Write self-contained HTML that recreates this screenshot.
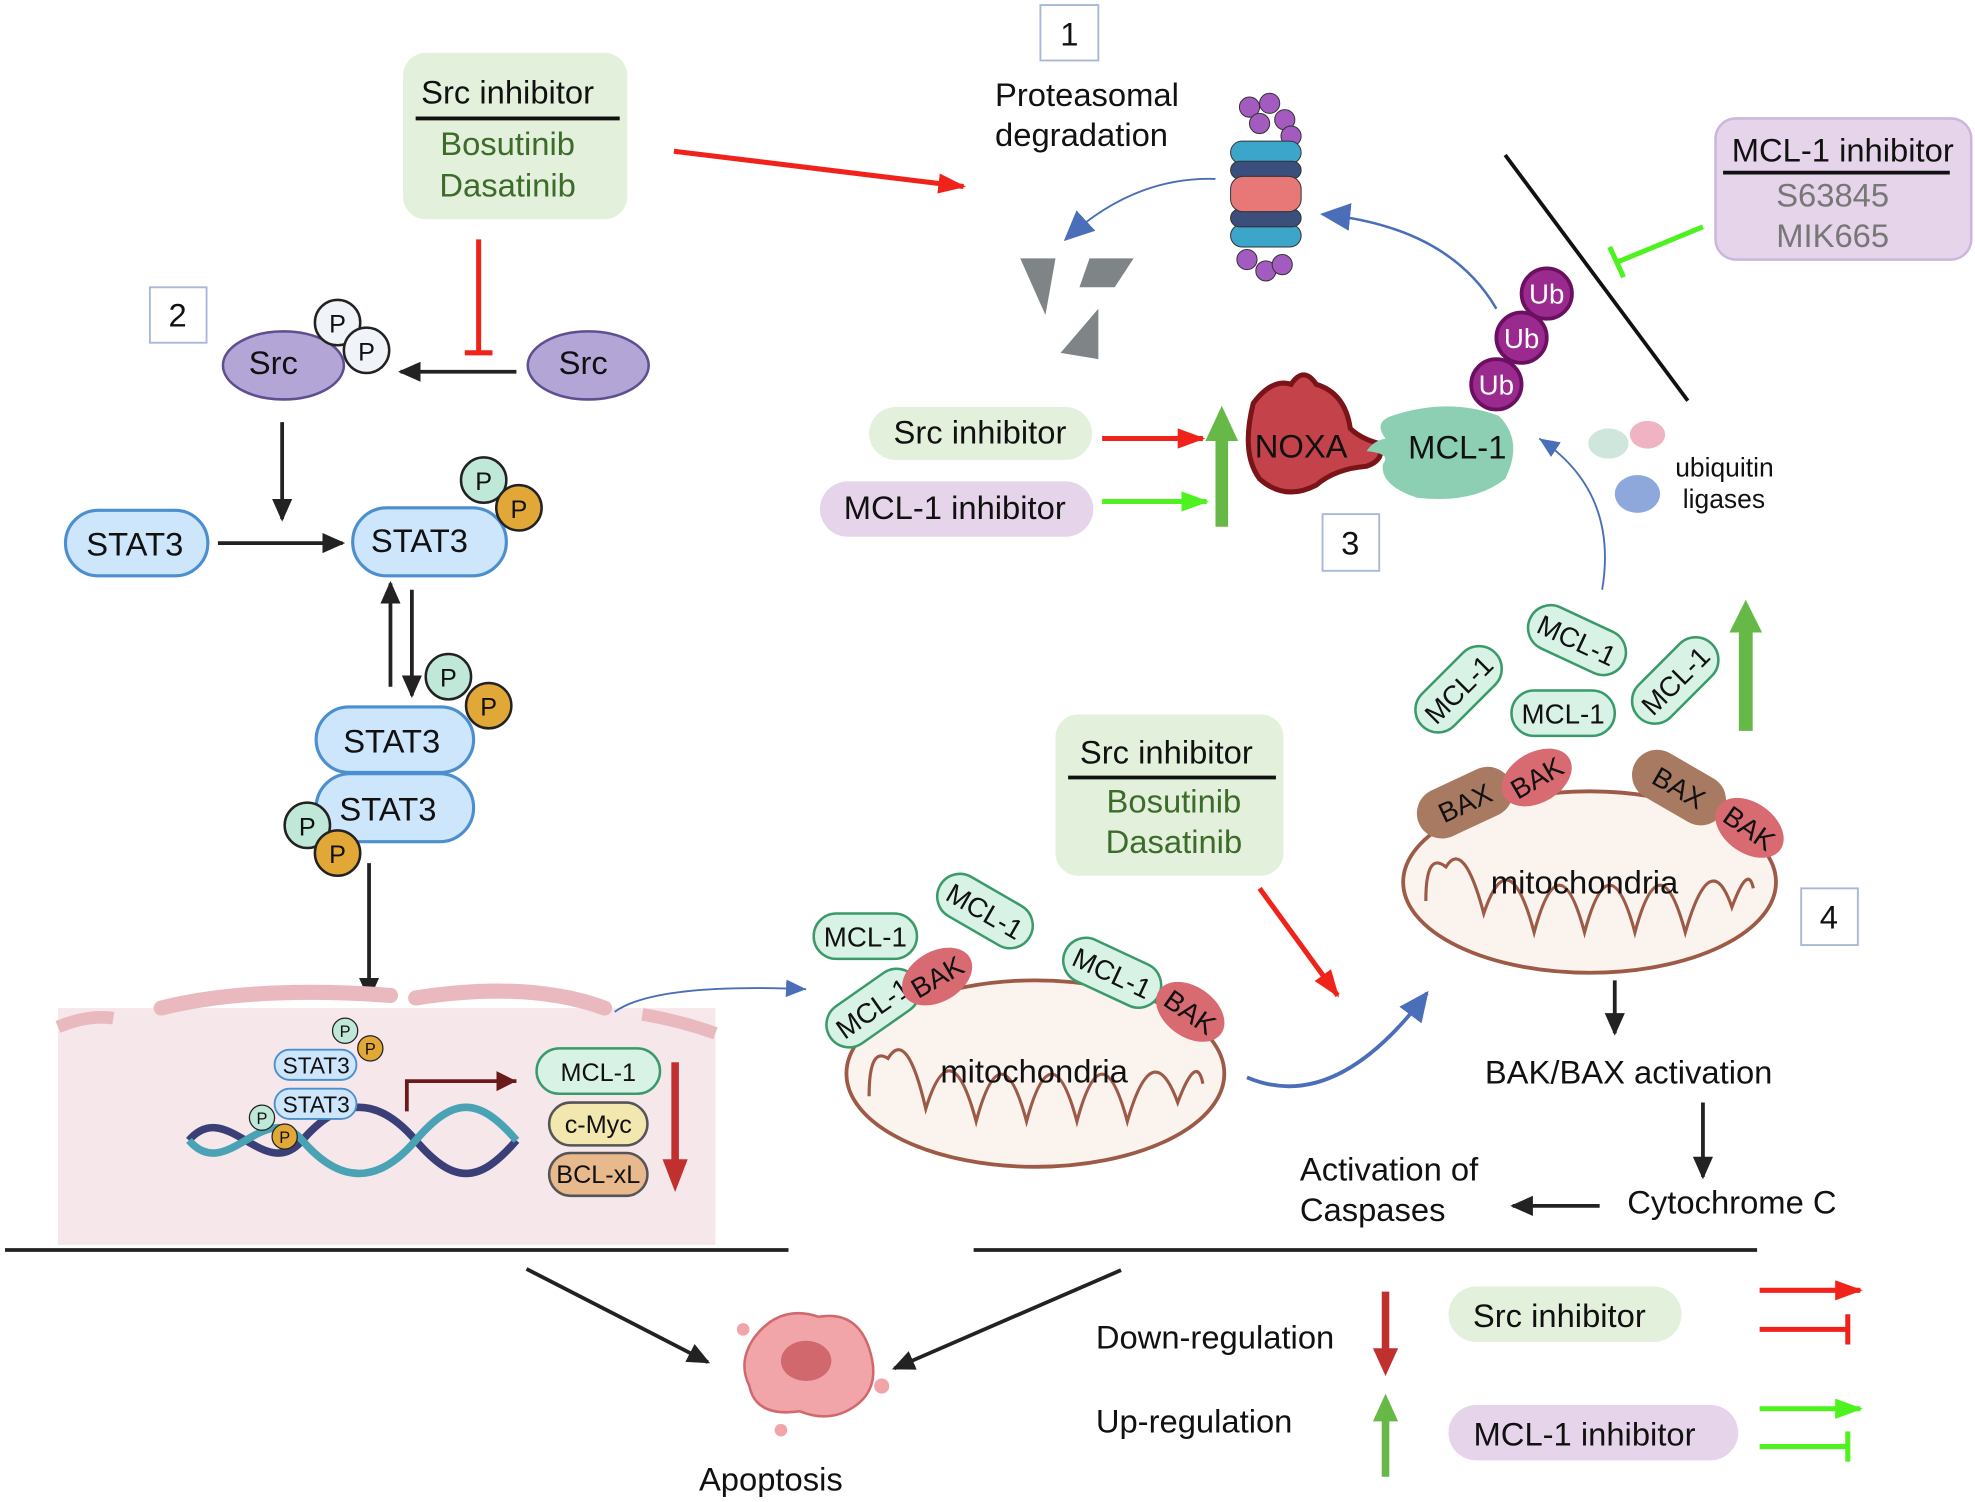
<!DOCTYPE html>
<html><head><meta charset="utf-8"><style>
html,body{margin:0;padding:0;background:#fff}
svg{display:block}
text{font-family:"Liberation Sans",sans-serif}
</style></head><body>
<svg width="1975" height="1502" viewBox="0 0 1568 1192" preserveAspectRatio="none" xmlns="http://www.w3.org/2000/svg">
<defs>
<marker id="ak" markerWidth="18" markerHeight="18" refX="16" refY="9" orient="auto" markerUnits="userSpaceOnUse"><path d="M0,1 L18,9 L0,17z" fill="#222"/></marker>
<marker id="ar" markerWidth="22" markerHeight="22" refX="20" refY="11" orient="auto" markerUnits="userSpaceOnUse"><path d="M0,3 L22,11 L0,19z" fill="#f0231b"/></marker>
<marker id="ag" markerWidth="22" markerHeight="22" refX="20" refY="11" orient="auto" markerUnits="userSpaceOnUse"><path d="M0,3 L22,11 L0,19z" fill="#4df21f"/></marker>
<marker id="ab" markerWidth="26" markerHeight="26" refX="22" refY="13" orient="auto" markerUnits="userSpaceOnUse"><path d="M0,2 L24,13 L0,24z" fill="#4a6fb8"/></marker>
<marker id="ab2" markerWidth="18" markerHeight="18" refX="16" refY="9" orient="auto" markerUnits="userSpaceOnUse"><path d="M0,2 L16,9 L0,16z" fill="#4a6fb8"/></marker>
<marker id="adr" markerWidth="18" markerHeight="18" refX="16" refY="9" orient="auto" markerUnits="userSpaceOnUse"><path d="M0,1 L16,9 L0,17z" fill="#6b1a1a"/></marker>
</defs>
<g font-size="26" fill="#111">
<rect x="826" y="4" width="46" height="44" fill="#fff" stroke="#a9b8d8" stroke-width="1.5"/><text x="849" y="36" text-anchor="middle">1</text>
<text x="790" y="84">Proteasomal</text><text x="790" y="116">degradation</text>
<rect x="320" y="42" width="178" height="132" rx="18" fill="#e3f0dc"/>
<text x="403" y="82" text-anchor="middle">Src inhibitor</text>
<line x1="330" y1="94" x2="492" y2="94" stroke="#111" stroke-width="3"/>
<text x="403" y="123" text-anchor="middle" fill="#3d6b2a">Bosutinib</text>
<text x="403" y="156" text-anchor="middle" fill="#3d6b2a">Dasatinib</text>
<line x1="535" y1="120" x2="765" y2="148" stroke="#f0231b" stroke-width="4" marker-end="url(#ar)"/>
<line x1="380" y1="190" x2="380" y2="280" stroke="#f0231b" stroke-width="4"/><line x1="369" y1="280" x2="391" y2="280" stroke="#f0231b" stroke-width="4"/>
<rect x="119" y="228" width="45" height="44" fill="#fff" stroke="#a9b8d8" stroke-width="1.5"/><text x="141" y="259" text-anchor="middle">2</text>
<ellipse cx="225" cy="290" rx="48" ry="27" fill="#b3a6d6" stroke="#5e4e92" stroke-width="2"/><text x="217" y="297" text-anchor="middle">Src</text>
<circle cx="268" cy="256" r="18" fill="#f0f4f8" stroke="#222" stroke-width="2"/><text x="268" y="264" font-size="20" text-anchor="middle">P</text>
<circle cx="291" cy="278" r="18" fill="#f0f4f8" stroke="#222" stroke-width="2"/><text x="291" y="286" font-size="20" text-anchor="middle">P</text>
<ellipse cx="467" cy="290" rx="48" ry="27" fill="#b3a6d6" stroke="#5e4e92" stroke-width="2"/><text x="463" y="297" text-anchor="middle">Src</text>
<line x1="410" y1="295" x2="318" y2="295" stroke="#222" stroke-width="3" marker-end="url(#ak)"/>
<line x1="224" y1="335" x2="224" y2="412" stroke="#222" stroke-width="3" marker-end="url(#ak)"/>
<rect x="52" y="405" width="113" height="52" rx="26" fill="#cde6fb" stroke="#4b8fcf" stroke-width="2.5"/><text x="107" y="441" text-anchor="middle">STAT3</text>
<line x1="173" y1="431" x2="272" y2="431" stroke="#222" stroke-width="3" marker-end="url(#ak)"/>
<rect x="280" y="403" width="122" height="54" rx="27" fill="#cde6fb" stroke="#4b8fcf" stroke-width="2.5"/><text x="333" y="438" text-anchor="middle">STAT3</text>
<circle cx="384" cy="381" r="18" fill="#bfe8d8" stroke="#222" stroke-width="2"/><text x="384" y="389" font-size="20" text-anchor="middle">P</text>
<circle cx="412" cy="403" r="18" fill="#e1a838" stroke="#222" stroke-width="2"/><text x="412" y="411" font-size="20" text-anchor="middle">P</text>
<line x1="310" y1="545" x2="310" y2="463" stroke="#222" stroke-width="3" marker-end="url(#ak)"/>
<line x1="327" y1="468" x2="327" y2="552" stroke="#222" stroke-width="3" marker-end="url(#ak)"/>
<circle cx="356" cy="537" r="18" fill="#bfe8d8" stroke="#222" stroke-width="2"/><text x="356" y="545" font-size="20" text-anchor="middle">P</text>
<circle cx="388" cy="560" r="18" fill="#e1a838" stroke="#222" stroke-width="2"/><text x="388" y="568" font-size="20" text-anchor="middle">P</text>
<rect x="251" y="614" width="125" height="54" rx="27" fill="#cde6fb" stroke="#4b8fcf" stroke-width="2.5"/><text x="308" y="651" text-anchor="middle">STAT3</text>
<rect x="251" y="561" width="125" height="52" rx="26" fill="#cde6fb" stroke="#4b8fcf" stroke-width="2.5"/><text x="311" y="597" text-anchor="middle">STAT3</text>
<circle cx="244" cy="655" r="18" fill="#bfe8d8" stroke="#222" stroke-width="2"/><text x="244" y="663" font-size="20" text-anchor="middle">P</text>
<circle cx="268" cy="677" r="18" fill="#e1a838" stroke="#222" stroke-width="2"/><text x="268" y="685" font-size="20" text-anchor="middle">P</text>
<line x1="293" y1="685" x2="293" y2="792" stroke="#222" stroke-width="3" marker-end="url(#ak)"/>
<rect x="46" y="800" width="522" height="188" fill="#f6e7ea"/>
<path d="M46,815 Q70,805 90,808" stroke="#eab9c0" stroke-width="10" fill="none"/>
<path d="M128,800 Q200,782 310,790" stroke="#eab9c0" stroke-width="12" fill="none" stroke-linecap="round"/>
<path d="M330,792 Q420,778 480,800" stroke="#eab9c0" stroke-width="12" fill="none" stroke-linecap="round"/>
<path d="M510,805 Q540,810 568,820" stroke="#eab9c0" stroke-width="10" fill="none"/>
<path d="M150,905 C180,870 210,940 240,905 S300,870 330,905 S380,940 410,905" stroke="#3a3f78" stroke-width="6" fill="none"/>
<path d="M150,905 C180,940 210,870 240,905 S300,940 330,905 S380,870 410,905" stroke="#4aa3b5" stroke-width="6" fill="none"/>
<rect x="218" y="833" width="65" height="24" rx="12" fill="#cde6fb" stroke="#4b8fcf" stroke-width="1.5"/><text x="251" y="852" font-size="18" text-anchor="middle">STAT3</text>
<rect x="218" y="864" width="65" height="24" rx="12" fill="#cde6fb" stroke="#4b8fcf" stroke-width="1.5"/><text x="251" y="883" font-size="18" text-anchor="middle">STAT3</text>
<circle cx="274" cy="818" r="10" fill="#bfe8d8" stroke="#222"/><text x="274" y="823" font-size="13" text-anchor="middle">P</text>
<circle cx="294" cy="832" r="10" fill="#e1a838" stroke="#222"/><text x="294" y="837" font-size="13" text-anchor="middle">P</text>
<circle cx="208" cy="887" r="10" fill="#bfe8d8" stroke="#222"/><text x="208" y="892" font-size="13" text-anchor="middle">P</text>
<circle cx="226" cy="902" r="10" fill="#e1a838" stroke="#222"/><text x="226" y="907" font-size="13" text-anchor="middle">P</text>
<path d="M323,882 L323,858 L410,858" stroke="#6b1a1a" stroke-width="3" fill="none" marker-end="url(#adr)"/>
<rect x="426" y="832" width="98" height="36" rx="18" fill="#d8f2e6" stroke="#3a9a6a" stroke-width="2"/><text x="475" y="858" font-size="20" text-anchor="middle">MCL-1</text>
<rect x="436" y="875" width="78" height="34" rx="17" fill="#f3e7b0" stroke="#555" stroke-width="2"/><text x="475" y="899" font-size="20" text-anchor="middle">c-Myc</text>
<rect x="436" y="915" width="78" height="34" rx="17" fill="#e9b98e" stroke="#555" stroke-width="2"/><text x="475" y="939" font-size="20" text-anchor="middle">BCL-xL</text>
<line x1="536" y1="843" x2="536" y2="925" stroke="#c0302e" stroke-width="6"/><path d="M526,920 L546,920 L536,946z" fill="#c0302e"/>
<path d="M488,803 Q520,780 640,785" stroke="#4a6fb8" stroke-width="1.5" fill="none" marker-end="url(#ab2)"/>
<ellipse cx="822" cy="852" rx="150" ry="74" fill="#fbf3ee" stroke="#9c5a47" stroke-width="3"/>
<path d="M690,870 Q690,830 705,840 Q720,815 735,880 Q755,815 775,890 Q795,815 815,890 Q835,815 855,890 Q875,815 895,890 Q915,820 935,875 Q950,835 955,860" stroke="#9c5a47" stroke-width="2.5" fill="none"/>
<text x="821" y="859" text-anchor="middle">mitochondria</text>
<rect x="646" y="725" width="82" height="36" rx="18" fill="#d8f2e6" stroke="#3a9a6a" stroke-width="2"/><text x="687" y="751" font-size="22" text-anchor="middle">MCL-1</text>
<g transform="rotate(30 782 723)"><rect x="741" y="705" width="82" height="36" rx="18" fill="#d8f2e6" stroke="#3a9a6a" stroke-width="2"/><text x="782" y="731" font-size="22" text-anchor="middle">MCL-1</text></g>
<g transform="rotate(25 883 772)"><rect x="842" y="754" width="82" height="36" rx="18" fill="#d8f2e6" stroke="#3a9a6a" stroke-width="2"/><text x="883" y="780" font-size="22" text-anchor="middle">MCL-1</text></g>
<g transform="rotate(-35 693 800)"><rect x="652" y="782" width="82" height="36" rx="18" fill="#d8f2e6" stroke="#3a9a6a" stroke-width="2"/><text x="693" y="808" font-size="22" text-anchor="middle">MCL-1</text></g>
<g transform="rotate(-30 744 775)"><ellipse cx="744" cy="775" rx="30" ry="20" fill="#d86a72"/><text x="744" y="783" font-size="22" text-anchor="middle">BAK</text></g>
<g transform="rotate(35 945 803)"><ellipse cx="945" cy="803" rx="30" ry="20" fill="#d86a72"/><text x="945" y="811" font-size="22" text-anchor="middle">BAK</text></g>
<rect x="838" y="567" width="181" height="128" rx="18" fill="#e3f0dc"/>
<text x="926" y="606" text-anchor="middle">Src inhibitor</text>
<line x1="848" y1="617" x2="1013" y2="617" stroke="#111" stroke-width="3"/>
<text x="932" y="645" text-anchor="middle" fill="#3d6b2a">Bosutinib</text>
<text x="932" y="677" text-anchor="middle" fill="#3d6b2a">Dasatinib</text>
<line x1="1000" y1="705" x2="1062" y2="790" stroke="#f0231b" stroke-width="4" marker-end="url(#ar)"/>
<path d="M990,855 Q1060,885 1133,788" stroke="#4a6fb8" stroke-width="3" fill="none" marker-end="url(#ab)"/>
<ellipse cx="1262" cy="700" rx="148" ry="72" fill="#fbf3ee" stroke="#9c5a47" stroke-width="3"/>
<path d="M1132,715 Q1132,675 1148,688 Q1162,665 1178,725 Q1198,665 1218,740 Q1238,665 1258,740 Q1278,665 1298,740 Q1318,665 1338,740 Q1358,670 1375,720 Q1388,685 1392,705" stroke="#9c5a47" stroke-width="2.5" fill="none"/>
<text x="1258" y="709" text-anchor="middle">mitochondria</text>
<g transform="rotate(-25 1163 637)"><rect x="1123" y="617" width="80" height="40" rx="20" fill="#a87a62"/><text x="1163" y="645" font-size="22" text-anchor="middle">BAX</text></g>
<g transform="rotate(-30 1220 617)"><ellipse cx="1220" cy="617" rx="30" ry="20" fill="#d86a72"/><text x="1220" y="625" font-size="22" text-anchor="middle">BAK</text></g>
<g transform="rotate(30 1333 625)"><rect x="1293" y="605" width="80" height="40" rx="20" fill="#a87a62"/><text x="1333" y="633" font-size="22" text-anchor="middle">BAX</text></g>
<g transform="rotate(35 1389 657)"><ellipse cx="1389" cy="657" rx="30" ry="20" fill="#d86a72"/><text x="1389" y="665" font-size="22" text-anchor="middle">BAK</text></g>
<g transform="rotate(-45 1158 547)"><rect x="1117" y="529" width="82" height="36" rx="18" fill="#d8f2e6" stroke="#3a9a6a" stroke-width="2"/><text x="1158" y="555" font-size="22" text-anchor="middle">MCL-1</text></g>
<g transform="rotate(25 1252 508)"><rect x="1211" y="490" width="82" height="36" rx="18" fill="#d8f2e6" stroke="#3a9a6a" stroke-width="2"/><text x="1252" y="516" font-size="22" text-anchor="middle">MCL-1</text></g>
<rect x="1200" y="548" width="82" height="36" rx="18" fill="#d8f2e6" stroke="#3a9a6a" stroke-width="2"/><text x="1241" y="574" font-size="22" text-anchor="middle">MCL-1</text>
<g transform="rotate(-45 1330 540)"><rect x="1289" y="522" width="82" height="36" rx="18" fill="#d8f2e6" stroke="#3a9a6a" stroke-width="2"/><text x="1330" y="548" font-size="22" text-anchor="middle">MCL-1</text></g>
<line x1="1386" y1="580" x2="1386" y2="500" stroke="#67b947" stroke-width="11"/><path d="M1373,502 L1399,502 L1386,476z" fill="#67b947"/>
<rect x="1430" y="705" width="45" height="45" fill="#fff" stroke="#a9b8d8" stroke-width="1.5"/><text x="1452" y="737" text-anchor="middle">4</text>
<line x1="1282" y1="778" x2="1282" y2="820" stroke="#222" stroke-width="3" marker-end="url(#ak)"/>
<text x="1293" y="860" text-anchor="middle">BAK/BAX activation</text>
<line x1="1352" y1="875" x2="1352" y2="934" stroke="#222" stroke-width="3" marker-end="url(#ak)"/>
<text x="1375" y="963" text-anchor="middle">Cytochrome C</text>
<line x1="1270" y1="957" x2="1201" y2="957" stroke="#222" stroke-width="3" marker-end="url(#ak)"/>
<text x="1032" y="937">Activation of</text><text x="1032" y="969">Caspases</text>
<line x1="4" y1="992" x2="626" y2="992" stroke="#222" stroke-width="3"/>
<line x1="773" y1="992" x2="1395" y2="992" stroke="#222" stroke-width="3"/>
<line x1="418" y1="1007" x2="562" y2="1081" stroke="#222" stroke-width="3" marker-end="url(#ak)"/>
<line x1="890" y1="1008" x2="710" y2="1086" stroke="#222" stroke-width="3" marker-end="url(#ak)"/>
<path d="M600,1060 Q620,1035 650,1045 Q680,1040 690,1070 Q700,1100 680,1115 Q660,1130 635,1120 Q600,1125 595,1100 Q585,1080 600,1060z" fill="#f1a5a8" stroke="#d0686e" stroke-width="2"/>
<ellipse cx="640" cy="1080" rx="20" ry="16" fill="#d0686e"/>
<circle cx="590" cy="1055" r="5" fill="#f1a5a8"/><circle cx="700" cy="1100" r="6" fill="#f1a5a8"/><circle cx="620" cy="1135" r="5" fill="#f1a5a8"/>
<text x="612" y="1183" text-anchor="middle">Apoptosis</text>
<text x="870" y="1070">Down-regulation</text>
<line x1="1100" y1="1025" x2="1100" y2="1075" stroke="#c0302e" stroke-width="6"/><path d="M1090,1070 L1110,1070 L1100,1092z" fill="#c0302e"/>
<text x="870" y="1137">Up-regulation</text>
<line x1="1100" y1="1172" x2="1100" y2="1125" stroke="#67b947" stroke-width="6"/><path d="M1090,1128 L1110,1128 L1100,1106z" fill="#67b947"/>
<rect x="1150" y="1021" width="185" height="44" rx="22" fill="#e3f0dc"/><text x="1238" y="1053" text-anchor="middle">Src inhibitor</text>
<rect x="1150" y="1115" width="230" height="44" rx="22" fill="#e6d4ea"/><text x="1258" y="1147" text-anchor="middle">MCL-1 inhibitor</text>
<line x1="1397" y1="1024" x2="1477" y2="1024" stroke="#f0231b" stroke-width="4" marker-end="url(#ar)"/>
<line x1="1397" y1="1055" x2="1467" y2="1055" stroke="#f0231b" stroke-width="4"/><line x1="1467" y1="1043" x2="1467" y2="1067" stroke="#f0231b" stroke-width="4"/>
<line x1="1397" y1="1118" x2="1477" y2="1118" stroke="#4df21f" stroke-width="4" marker-end="url(#ag)"/>
<line x1="1397" y1="1148" x2="1467" y2="1148" stroke="#4df21f" stroke-width="4"/><line x1="1467" y1="1136" x2="1467" y2="1160" stroke="#4df21f" stroke-width="4"/>
<rect x="1362" y="94" width="203" height="112" rx="16" fill="#e6d4ea" stroke="#c9b7e0" stroke-width="2"/>
<text x="1463" y="128" text-anchor="middle">MCL-1 inhibitor</text>
<line x1="1368" y1="137" x2="1548" y2="137" stroke="#111" stroke-width="3"/>
<text x="1455" y="164" text-anchor="middle" fill="#777">S63845</text>
<text x="1455" y="196" text-anchor="middle" fill="#777">MIK665</text>
<line x1="1352" y1="180" x2="1284" y2="208" stroke="#4df21f" stroke-width="4"/><line x1="1278" y1="196" x2="1289" y2="220" stroke="#4df21f" stroke-width="4"/>
<line x1="1195" y1="123" x2="1340" y2="318" stroke="#111" stroke-width="3"/>
<g stroke="#333" stroke-width="0.8">
<g fill="#a45bbf"><circle cx="992" cy="85" r="8"/><circle cx="1008" cy="82" r="8"/><circle cx="1020" cy="95" r="8"/><circle cx="1025" cy="108" r="8"/><circle cx="1000" cy="98" r="8"/><circle cx="990" cy="206" r="8"/><circle cx="1005" cy="215" r="8"/><circle cx="1018" cy="210" r="8"/></g>
<g fill="#3ba6c9"><rect x="977" y="112" width="56" height="18" rx="9"/><rect x="977" y="178" width="56" height="18" rx="9"/></g>
<g fill="#3b4f7c"><rect x="977" y="128" width="56" height="14" rx="7"/><rect x="977" y="166" width="56" height="14" rx="7"/></g>
<g fill="#e87878"><rect x="977" y="140" width="56" height="28" rx="10"/></g>
</g>
<path d="M965,142 Q900,140 846,190" stroke="#4a6fb8" stroke-width="1.5" fill="none" marker-end="url(#ab)"/>
<path d="M810,205 L838,205 L830,250z" fill="#7f8487"/><path d="M865,205 L900,205 L885,228 L857,228z" fill="#7f8487"/><path d="M872,245 L872,285 L842,280z" fill="#7f8487"/>
<path d="M1188,245 Q1150,180 1050,170" stroke="#4a6fb8" stroke-width="2" fill="none" marker-end="url(#ab)"/>
<path d="M995,320 Q1010,300 1025,305 Q1035,290 1045,305 Q1068,312 1072,340 Q1080,348 1095,352 Q1100,365 1085,370 Q1060,372 1045,385 Q1020,398 1000,380 Q985,360 995,320z" fill="#c4424a" stroke="#7a1419" stroke-width="4"/>
<text x="1033" y="363" text-anchor="middle">NOXA</text>
<path d="M1105,330 Q1150,315 1190,330 Q1210,350 1195,380 Q1170,400 1125,395 Q1095,385 1098,368 Q1105,360 1085,358 Q1090,350 1100,348 Q1090,335 1105,330z" fill="#8ccfb3"/>
<text x="1157" y="364" text-anchor="middle">MCL-1</text>
<g fill="#9b2a8f" stroke="#6b1060" stroke-width="3"><circle cx="1228" cy="233" r="20"/><circle cx="1208" cy="268" r="20"/><circle cx="1188" cy="305" r="20"/></g>
<g fill="#fff" font-size="22" text-anchor="middle"><text x="1228" y="241">Ub</text><text x="1208" y="276">Ub</text><text x="1188" y="313">Ub</text></g>
<rect x="1050" y="408" width="45" height="45" fill="#fff" stroke="#a9b8d8" stroke-width="1.5"/><text x="1072" y="440" text-anchor="middle">3</text>
<rect x="690" y="323" width="177" height="42" rx="21" fill="#e3f0dc"/><text x="778" y="352" text-anchor="middle">Src inhibitor</text>
<rect x="651" y="382" width="217" height="44" rx="22" fill="#e6d4ea"/><text x="758" y="412" text-anchor="middle">MCL-1 inhibitor</text>
<line x1="875" y1="348" x2="955" y2="348" stroke="#f0231b" stroke-width="4" marker-end="url(#ar)"/>
<line x1="875" y1="398" x2="958" y2="398" stroke="#4df21f" stroke-width="4" marker-end="url(#ag)"/>
<line x1="970" y1="418" x2="970" y2="345" stroke="#67b947" stroke-width="10"/><path d="M957,350 L983,350 L970,322z" fill="#67b947"/>
<ellipse cx="1277" cy="352" rx="16" ry="12" fill="#cfe6dc"/><ellipse cx="1308" cy="345" rx="14" ry="11" fill="#f0b3c3"/><ellipse cx="1300" cy="392" rx="18" ry="15" fill="#8ea8dc"/>
<text x="1330" y="378" font-size="21">ubiquitin</text><text x="1336" y="403" font-size="21">ligases</text>
<path d="M1272,468 Q1285,390 1222,348" stroke="#4a6fb8" stroke-width="1.5" fill="none" marker-end="url(#ab2)"/>
</g>
</svg>
</body></html>
